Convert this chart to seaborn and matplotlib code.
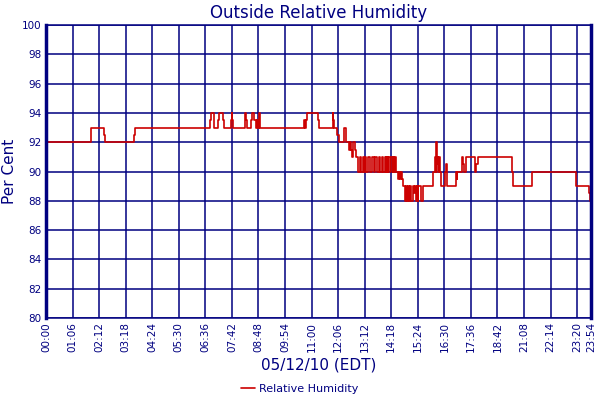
import pandas as pd
import numpy as np
import matplotlib.pyplot as plt
import seaborn as sns

sns.set_style("white")
plt.rcParams['font.family'] = ['DejaVu Sans']

NAVY = '#000080'
RED = '#cc0000'

# sample index (one per logged minute) where the reading changes, and the new value
change_idx = [0, 113, 143, 146, 219, 222, 407, 410, 418, 427, 429, 441, 443,
              459, 461, 462, 464, 495, 497, 500, 510, 513, 518, 521, 524, 528,
              530, 531, 533, 640, 643, 645, 648, 677, 679, 712, 714, 716, 724,
              727, 740, 745, 753, 755, 758, 760, 762, 767, 770, 776,
              780, 784, 788, 790, 794, 796, 800, 804, 811, 814, 818, 823,
              827, 830, 834, 837, 842, 845, 846, 850, 851, 856, 857, 862,
              863, 865, 867, 869, 871, 875, 877, 879, 881, 884, 887,
              891, 894, 896, 899, 901, 905, 908, 911, 914, 916, 919, 922,
              924, 925, 932, 938, 961, 967, 969, 970, 971, 973, 975, 977,
              979, 981, 992, 995, 997, 1018, 1021, 1022, 1034, 1036, 1038,
              1044, 1065, 1067, 1068, 1073, 1159, 1161, 1208, 1316, 1349,
              1352, 1354]
change_val = [92, 93, 92.5, 92, 92.5, 93, 93.5, 94, 93, 93.5, 94, 93.5, 93,
              93.5, 94, 93.5, 93, 94, 93.5, 93, 93.5, 94, 93.5, 93, 93.5, 93,
              94, 93.5, 93, 93.5, 93, 93.5, 94, 93.5, 93, 94, 93.5, 93, 92.5,
              92, 93, 92, 91.5, 92, 91.5, 91, 92, 91.5, 91, 90,
              91, 90, 91, 90, 91, 90, 91, 90, 91, 90, 91, 90,
              91, 90, 91, 90, 91, 90, 91, 90, 91, 90, 91, 90,
              91, 90, 91, 90.5, 90, 89.5, 90, 89.5, 90, 89.5, 89,
              88, 89, 88, 89, 88, 89, 88, 89, 88.5, 89, 88, 89,
              88, 89, 88, 89, 90, 91, 90, 92, 90.5, 91, 90, 91,
              90, 89, 90, 90.5, 89, 90, 89.5, 90, 91, 90.5, 90,
              91, 90.5, 90, 90.5, 91, 90, 89, 90, 89, 88.5,
              88, 88]

tick_labels = ['00:00', '01:06', '02:12', '03:18', '04:24', '05:30', '06:36',
               '07:42', '08:48', '09:54', '11:00', '12:06', '13:12', '14:18',
               '15:24', '16:30', '17:36', '18:42', '21:08', '22:14', '23:20',
               '23:54']
tick_pos = list(range(0, 1321, 66)) + [1354]

df = pd.DataFrame({'idx': change_idx, 'rh': change_val})

fig = plt.figure(figsize=(6, 4), dpi=100)
ax = fig.add_axes([0.0767, 0.205, 0.908, 0.7325])

sns.lineplot(data=df, x='idx', y='rh', ax=ax, color=RED, linewidth=1.2,
             drawstyle='steps-post', label='Relative Humidity', legend=False)

ax.set_xlim(0, 1354)
ax.set_ylim(80, 100)
ax.set_yticks(np.arange(80, 101, 2))
ax.set_xticks(tick_pos)
ax.set_xticklabels(tick_labels, rotation=90)
ax.tick_params(axis='both', length=0, labelsize=7.5, labelcolor=NAVY, pad=3)
ax.grid(True, color=NAVY, linewidth=1.1)
ax.set_axisbelow(True)

for side in ['top', 'bottom']:
    ax.spines[side].set_color(NAVY)
    ax.spines[side].set_linewidth(1.1)
for side in ['left', 'right']:
    ax.spines[side].set_color(NAVY)
    ax.spines[side].set_linewidth(2.5)

ax.set_title('Outside Relative Humidity', color=NAVY, fontsize=12, pad=5)
ax.set_ylabel('Per Cent', color=NAVY, fontsize=11, labelpad=4)
ax.set_xlabel('05/12/10 (EDT)', color=NAVY, fontsize=11, labelpad=4)

handles, labels = ax.get_legend_handles_labels()
fig.legend(handles, labels, loc='lower center', bbox_to_anchor=(0.5, -0.01),
           frameon=False, fontsize=8, labelcolor=NAVY, handlelength=1.2,
           handletextpad=0.4)

plt.savefig('out.png', dpi=100)
